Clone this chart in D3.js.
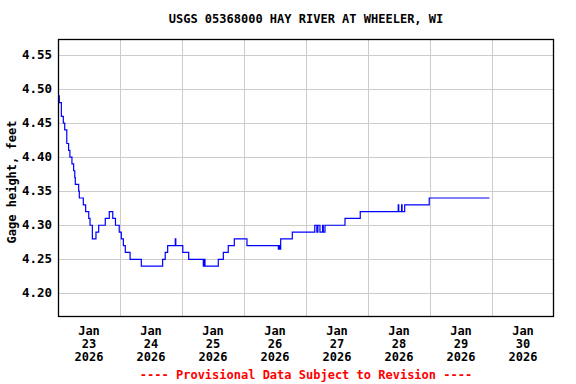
<!DOCTYPE html>
<meta charset="utf-8">
<style>
    body { margin: 0; background: #fff; }
    text {
        font-family: "DejaVu Sans Mono", "Liberation Mono", monospace;
        font-weight: bold;
    }
</style>

<svg width="576" height="384"></svg>

<script src="https://cdn.jsdelivr.net/npm/d3@7/dist/d3.min.js"></script>

<script>
    // hours after Jan 23 2026 00:00 where the stage changes
    var hours = [0, 0.5, 1.3, 2.05, 2.6, 3.4, 4.1, 4.6, 5.4, 6.05, 6.5, 6.7, 8.0, 8.25, 9.8, 10.7,
        11.9, 12.4, 13.3, 14.7, 15.75, 18.3, 19.85, 21.2, 22.25, 23.7, 24.5, 25.3, 26.05, 27.9,
        32.25, 40.5, 41.5, 42.45, 45.4, 45.6, 48.3, 50.6, 56.25, 56.5, 56.9, 62.05, 64.0, 65.9,
        68.25, 73.15, 85.3, 85.5, 85.8, 86.2, 90.7, 99.4, 100.2, 100.6, 101.4, 102.4,
        102.7, 103.35, 111.1, 117.0, 131.7, 131.9, 133.0, 133.2, 134.2, 143.7, 167.0];
    var stage = [4.49, 4.48, 4.46, 4.45, 4.44, 4.42, 4.41, 4.40, 4.39, 4.38, 4.37, 4.36, 4.35, 4.34, 4.33, 4.32,
        4.31, 4.30, 4.28, 4.29, 4.30, 4.31, 4.32, 4.31, 4.30, 4.29, 4.28, 4.27, 4.26, 4.25,
        4.24, 4.25, 4.26, 4.27, 4.28, 4.27, 4.26, 4.25, 4.24, 4.25, 4.24, 4.25, 4.26, 4.27,
        4.28, 4.27, 4.265, 4.27, 4.265, 4.28, 4.29, 4.30, 4.29, 4.30, 4.29, 4.30,
        4.29, 4.30, 4.31, 4.32, 4.33, 4.32, 4.33, 4.32, 4.33, 4.34, 4.34];

    var yTicks = [4.20, 4.25, 4.30, 4.35, 4.40, 4.45, 4.50, 4.55];
    var dayLabels = ["23", "24", "25", "26", "27", "28", "29", "30"];

    var svg = d3.select("svg"),
        plotLeft = 58, plotRight = 554, plotTop = 39, plotBottom = 316;

    var start = Date.UTC(2026, 0, 23);
    var x = d3.scaleUtc()
            .domain([new Date(start), new Date(Date.UTC(2026, 0, 31))])
            .range([plotLeft, plotRight]);
    var y = d3.scaleLinear()
            .domain([4.1667, 4.5735])
            .range([plotBottom, plotTop]);

    var data = hours.map(function (h, i) {
        return {t: new Date(start + h * 3600e3), v: stage[i]};
    });

    // grid
    var midnights = d3.utcDay.range(new Date(Date.UTC(2026, 0, 24)), new Date(Date.UTC(2026, 0, 31)));
    svg.append("g")
            .selectAll("line")
            .data(midnights)
            .enter().append("line")
            .attr("x1", function (d) { return Math.round(x(d)) + 0.5; })
            .attr("x2", function (d) { return Math.round(x(d)) + 0.5; })
            .attr("y1", plotTop).attr("y2", plotBottom)
            .attr("stroke", "#cccccc");
    svg.append("g")
            .selectAll("line")
            .data(yTicks)
            .enter().append("line")
            .attr("x1", plotLeft).attr("x2", plotRight)
            .attr("y1", function (d) { return Math.round(y(d)) + 0.5; })
            .attr("y2", function (d) { return Math.round(y(d)) + 0.5; })
            .attr("stroke", "#cccccc");

    // stage line
    svg.append("path")
            .datum(data)
            .attr("fill", "none")
            .attr("stroke", "#0000ff")
            .attr("stroke-width", 1.2)
            .attr("d", d3.line()
                    .curve(d3.curveStepAfter)
                    .x(function (d) { return x(d.t); })
                    .y(function (d) { return y(d.v); }));

    // frame
    svg.append("rect")
            .attr("x", plotLeft + 0.5).attr("y", plotTop + 0.5)
            .attr("width", plotRight - plotLeft - 1).attr("height", plotBottom - plotTop)
            .attr("fill", "none").attr("stroke", "#000").attr("stroke-width", 1.3);

    // y tick labels
    svg.append("g")
            .selectAll("text")
            .data(yTicks)
            .enter().append("text")
            .attr("x", 52)
            .attr("y", function (d) { return y(d) + 4; })
            .attr("text-anchor", "end")
            .attr("font-size", "12.5px")
            .text(function (d) { return d.toFixed(2); });

    // x tick labels at noon, three lines each
    dayLabels.forEach(function (d, i) {
        var cx = x(new Date(start + (i * 24 + 12) * 3600e3));
        ["Jan", d, "2026"].forEach(function (s, k) {
            svg.append("text")
                    .attr("x", cx).attr("y", 335 + k * 13)
                    .attr("text-anchor", "middle")
                    .attr("font-size", "12px")
                    .text(s);
        });
    });

    svg.append("text")
            .attr("x", 306).attr("y", 23)
            .attr("text-anchor", "middle")
            .attr("font-size", "12px")
            .text("USGS 05368000 HAY RIVER AT WHEELER, WI");

    svg.append("text")
            .attr("transform", "translate(16,182) rotate(-90)")
            .attr("text-anchor", "middle")
            .attr("font-size", "12px")
            .text("Gage height, feet");

    svg.append("text")
            .attr("x", 306).attr("y", 379)
            .attr("text-anchor", "middle")
            .attr("font-size", "12px")
            .attr("fill", "#ff0000")
            .text("---- Provisional Data Subject to Revision ----");
</script>
